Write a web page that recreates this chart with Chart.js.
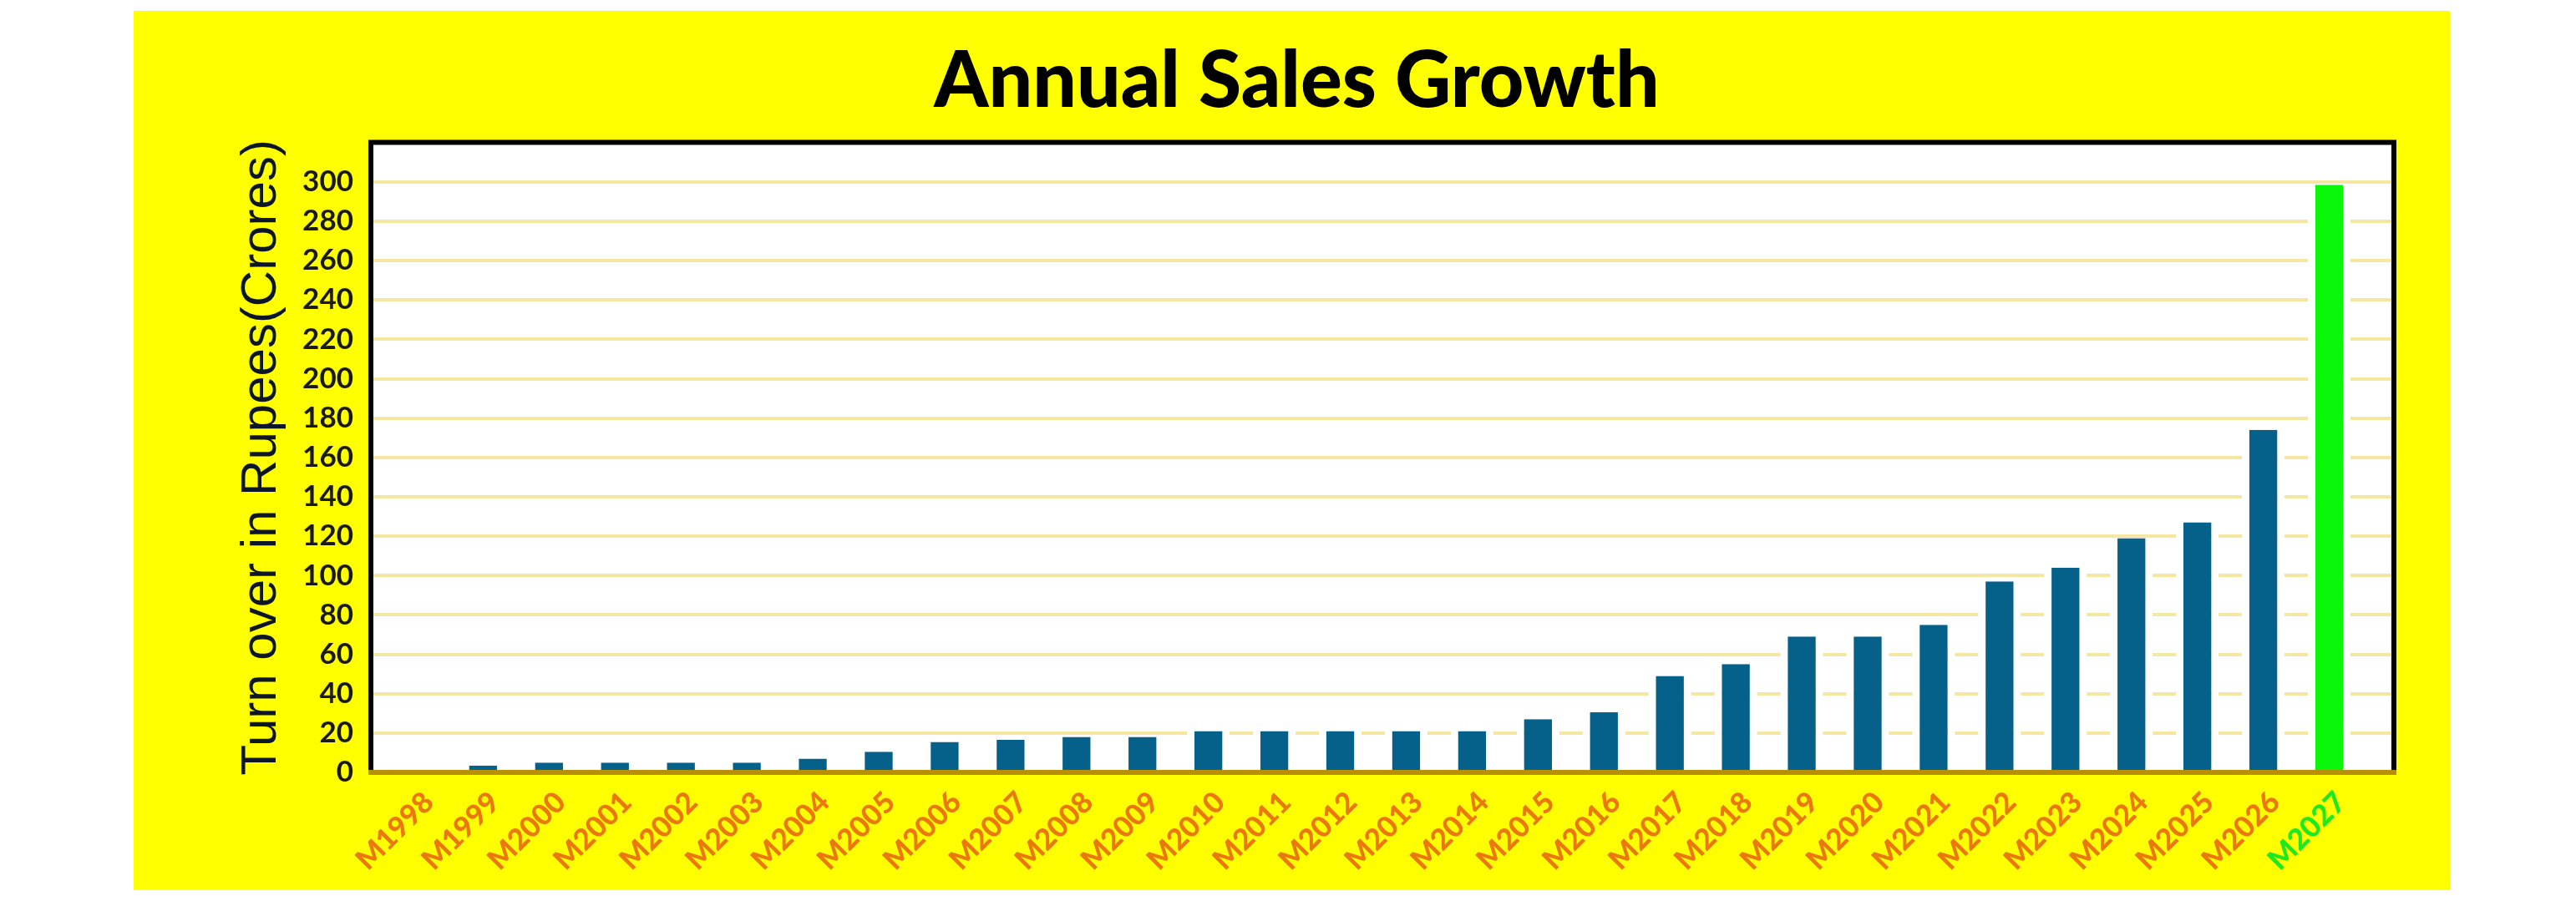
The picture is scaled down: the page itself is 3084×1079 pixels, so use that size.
<!DOCTYPE html>
<html>
<head>
<meta charset="utf-8">
<title>Annual Sales Growth</title>
<script src="https://cdn.jsdelivr.net/npm/chart.js@4.4.1/dist/chart.umd.min.js"></script>
<style>
  html, body { margin: 0; padding: 0; background: #ffffff; }
  #chart { display: block; }
</style>
</head>
<body>
<canvas id="chart" width="3084" height="1079"></canvas>
<script>
// data (turn over, crores)
const categories = [
  "M1998", "M1999", "M2000", "M2001", "M2002", "M2003", "M2004", "M2005",
  "M2006", "M2007", "M2008", "M2009", "M2010", "M2011", "M2012", "M2013",
  "M2014", "M2015", "M2016", "M2017", "M2018", "M2019", "M2020", "M2021",
  "M2022", "M2023", "M2024", "M2025", "M2026", "M2027"
];
const sales = [
  0, 3.5, 5, 5, 5, 5, 7, 10.5,
  15.5, 16.5, 18, 18, 21, 21, 21, 21,
  21, 27, 30.5, 49, 55, 69, 69, 75,
  97, 104, 119, 127, 174, 298.5
];
const yTicks = [0, 20, 40, 60, 80, 100, 120, 140, 160, 180, 200, 220, 240, 260, 280, 300];

const BAR = "#06618a";
const TARGET = "#0af70a";
const ORANGE = "#ea780c";
const LABEL_GREEN = "#1fe81f";
const last = categories.length - 1;

// yellow panel, white plot frame, gridlines, borders
const framePlugin = {
  id: "frame",
  beforeDraw(chart) {
    const { ctx, chartArea } = chart;
    ctx.save();
    ctx.fillStyle = "#ffffff";
    ctx.fillRect(0, 0, chart.width, chart.height);
    ctx.fillStyle = "#ffff00";
    ctx.fillRect(160, 13, 2773, 1053);
    ctx.fillStyle = "#ffffff";
    ctx.fillRect(chartArea.left - 16, chartArea.top, chartArea.right - chartArea.left + 54, chartArea.bottom - chartArea.top);
    ctx.restore();
  },
  beforeDatasetsDraw(chart) {
    const { ctx, chartArea, scales } = chart;
    const y = scales.y;
    ctx.save();
    ctx.strokeStyle = "#f5e6a2";
    ctx.lineWidth = 4;
    yTicks.forEach(v => {
      if (v === 0) return;
      const py = Math.round(y.getPixelForValue(v));
      ctx.beginPath();
      ctx.moveTo(chartArea.left - 13, py);
      ctx.lineTo(chartArea.right + 35, py);
      ctx.stroke();
    });
    ctx.restore();
  },
  afterDatasetsDraw(chart) {
    const { ctx, chartArea } = chart;
    const l = chartArea.left - 16, r = chartArea.right + 38;
    const t = chartArea.top, b = chartArea.bottom;
    ctx.save();
    ctx.strokeStyle = "#000000";
    ctx.lineWidth = 6;
    ctx.beginPath();
    ctx.moveTo(l, b);
    ctx.lineTo(l, t);
    ctx.lineTo(r, t);
    ctx.lineTo(r, b);
    ctx.stroke();
    ctx.strokeStyle = "#b88f08";
    ctx.beginPath();
    ctx.moveTo(l - 3, b);
    ctx.lineTo(r + 3, b);
    ctx.stroke();
    ctx.restore();
  }
};

new Chart(document.getElementById("chart"), {
  type: "bar",
  data: {
    labels: categories,
    datasets: [{
      label: "Turn over",
      data: sales,
      backgroundColor: categories.map((c, i) => i === last ? TARGET : BAR),
      borderColor: "#ffffff",
      borderWidth: { left: 9, right: 9, top: 0, bottom: 0 },
      barPercentage: 0.65,
      categoryPercentage: 1.0
    }]
  },
  options: {
    responsive: false,
    devicePixelRatio: 1,
    animation: false,
    layout: { padding: { left: 277, right: 256, top: 42, bottom: 0 } },
    plugins: {
      legend: { display: false },
      tooltip: { enabled: false },
      title: {
        display: true,
        text: "Annual Sales Growth",
        color: "#000000",
        font: { family: "Lato", size: 93, weight: "900" },
        padding: { top: 0, bottom: 17 }
      }
    },
    scales: {
      x: {
        grid: { display: false, drawTicks: false },
        border: { display: false },
        ticks: {
          autoSkip: false,
          maxRotation: 45,
          minRotation: 45,
          padding: 15,
          labelOffset: 14,
          color: ctx => ctx.index === last ? LABEL_GREEN : ORANGE,
          font: { family: "Lato", size: 35, weight: "900" }
        },
        afterFit(scale) { scale.height = 154; }
      },
      y: {
        min: 0,
        max: 320,
        grid: { display: false, drawTicks: false },
        border: { display: false },
        ticks: {
          stepSize: 20,
          padding: 37,
          color: "#1a1a1a",
          font: { family: "Lato", size: 35, weight: "bold" },
          callback: v => yTicks.includes(v) ? v : null
        },
        title: {
          display: true,
          text: "Turn over in Rupees(Crores)",
          color: "#0d1626",
          font: { family: "Liberation Sans", size: 60 },
          padding: { top: 0, bottom: 15 }
        },
        afterFit(scale) { scale.width = 183; }
      }
    }
  },
  plugins: [framePlugin]
});
</script>
</body>
</html>
